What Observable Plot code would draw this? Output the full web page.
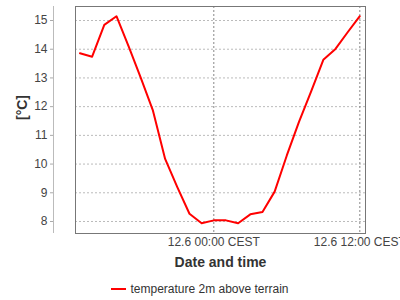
<!DOCTYPE html>
<html><head><meta charset="utf-8">
<script src="https://cdn.jsdelivr.net/npm/d3@7"></script>
<script src="https://cdn.jsdelivr.net/npm/@observablehq/plot@0.6"></script>
<style>
body{margin:0;background:#fff;font-family:"Liberation Sans",Arial,sans-serif;}
#chart svg{display:block;}
#legend{width:400px;height:25px;display:flex;justify-content:center;align-items:center;box-sizing:border-box;padding-top:3px;font-size:12px;color:#333;}
#legend .sw{width:15px;height:2px;background:#ff0000;margin-right:4px;}
</style></head><body>
<div id="chart"></div>
<div id="legend"><span class="sw"></span><span id="legtext"></span></div>
<script>
// Data (hourly, local time CEST)
const times = ["2024-06-11T13:00","2024-06-11T14:00","2024-06-11T15:00","2024-06-11T16:00","2024-06-11T17:00","2024-06-11T18:00","2024-06-11T19:00","2024-06-11T20:00","2024-06-11T21:00","2024-06-11T22:00","2024-06-11T23:00","2024-06-12T00:00","2024-06-12T01:00","2024-06-12T02:00","2024-06-12T03:00","2024-06-12T04:00","2024-06-12T05:00","2024-06-12T06:00","2024-06-12T07:00","2024-06-12T08:00","2024-06-12T09:00","2024-06-12T10:00","2024-06-12T11:00","2024-06-12T12:00"];
const temps = [13.86,13.74,14.85,15.15,14.1,13.0,11.86,10.18,9.2,8.27,7.94,8.04,8.04,7.94,8.25,8.33,9.04,10.3,11.47,12.53,13.63,14.01,14.59,15.15];
const xTicks = ["2024-06-12T00:00","2024-06-12T12:00"];
const xTickLabels = ["12.6 00:00 CEST","12.6 12:00 CEST"];
const yTicks = [8,9,10,11,12,13,14,15];
const seriesName = "temperature 2m above terrain";
const xLabel = "Date and time";
const yLabel = "[°C]";

const parse = d3.utcParse("%Y-%m-%dT%H:%M");
const data = times.map((t,i)=>({time: parse(t), temp: temps[i]}));
const xTickDates = xTicks.map(parse);
const labelOf = new Map(xTickDates.map((d,i)=>[+d, xTickLabels[i]]));
const xDomain = [parse("2024-06-11T12:38"), parse("2024-06-12T12:28")];

const plot = Plot.plot({
  width: 400, height: 275,
  marginLeft: 75, marginRight: 35, marginTop: 6, marginBottom: 42,
  style: {fontFamily: "'Liberation Sans', Arial, sans-serif", fontSize: "12px", color: "#444", background: "#fff", overflow: "visible"},
  x: {type: "utc", domain: xDomain},
  y: {domain: [7.582, 15.488]},
  marks: [
    Plot.gridY(yTicks, {stroke: "#bbb", strokeOpacity: 1, strokeDasharray: "2,2"}),
    Plot.gridX(xTickDates, {stroke: "#888", strokeOpacity: 1, strokeDasharray: "2,2"}),
    Plot.frame({stroke: "#777"}),
    Plot.axisY(yTicks, {dx: -22, tickSize: 3, tickPadding: 3, stroke: "#aaa", fill: "#444", label: null}),
    Plot.ruleX([xDomain[0]], {dx: -22, stroke: "#bbb"}),
    Plot.axisX(xTickDates, {tickSize: 0, tickPadding: 4, fill: "#444", label: null, tickFormat: d => labelOf.get(+d), textOverflow: null}),
    Plot.line(data, {x: "time", y: "temp", stroke: "#ff0000", strokeWidth: 2}),
    Plot.text([yLabel], {frameAnchor: "left", dx: -53, rotate: -90, fontWeight: "bold", fontSize: 14, fill: "#333", lineAnchor: "middle", text: d => d}),
    Plot.text([xLabel], {frameAnchor: "bottom", dy: 29, fontWeight: "bold", fontSize: 14, fill: "#333", lineAnchor: "middle", text: d => d})
  ]
});
document.getElementById("chart").appendChild(plot);
document.getElementById("legtext").textContent = seriesName;
</script>
</body></html>
